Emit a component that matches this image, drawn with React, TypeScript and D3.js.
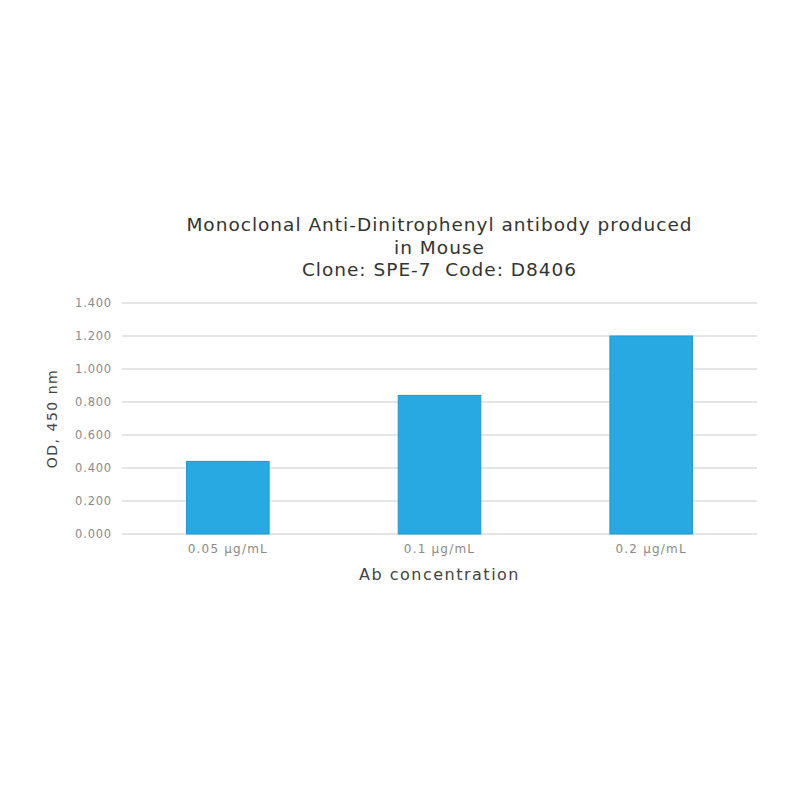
import React, { useRef, useEffect, FC } from 'react';
import * as d3 from 'd3';

// chart data
const categories: string[] = ['0.05 µg/mL', '0.1 µg/mL', '0.2 µg/mL'];
const odValues: number[] = [0.44, 0.84, 1.2];
const yTicks: number[] = [0, 0.2, 0.4, 0.6, 0.8, 1.0, 1.2, 1.4];
const titleLines: string[] = [
  'Monoclonal Anti-Dinitrophenyl antibody produced',
  'in Mouse',
  'Clone: SPE-7  Code: D8406',
];

const W = 800;
const H = 800;
const margin = { top: 303, right: 43, bottom: 266, left: 122 };
const FONT = '"DejaVu Sans", Verdana, sans-serif';

const BarChart: FC = () => {
  const svgRef = useRef<SVGSVGElement | null>(null);

  useEffect(() => {
    const svg = d3.select(svgRef.current);
    svg.selectAll('*').remove();

    const x = d3.scaleBand<string>()
      .domain(categories)
      .range([margin.left, W - margin.right])
      .paddingInner(0.61)
      .paddingOuter(0.305);
    const y = d3.scaleLinear().domain([0, 1.4]).range([H - margin.bottom, margin.top]);
    const cx = (margin.left + W - margin.right) / 2;

    // gridlines
    svg.append('g').selectAll('line').data(yTicks).join('line')
      .attr('x1', margin.left).attr('x2', W - margin.right)
      .attr('y1', (d) => y(d)).attr('y2', (d) => y(d))
      .attr('stroke', '#dcdcdc').attr('stroke-width', 1.5);

    // y tick labels
    svg.append('g').selectAll('text').data(yTicks).join('text')
      .attr('x', margin.left - 10).attr('y', (d) => y(d)).attr('dy', '0.35em')
      .attr('text-anchor', 'end')
      .attr('font-family', FONT).attr('font-size', 11.5).attr('letter-spacing', 0.8)
      .attr('fill', '#8a8a8a')
      .text((d) => d3.format('.3f')(d));

    // bars
    svg.append('g').selectAll('rect').data(odValues).join('rect')
      .attr('x', (_, i) => x(categories[i])!)
      .attr('width', x.bandwidth())
      .attr('y', (d) => y(d))
      .attr('height', (d) => y(0) - y(d))
      .attr('fill', '#29a9e1')
      .attr('stroke', '#1f97cf').attr('stroke-width', 1);

    // x labels
    svg.append('g').selectAll('text').data(categories).join('text')
      .attr('x', (d) => x(d)! + x.bandwidth() / 2).attr('y', H - margin.bottom + 19)
      .attr('text-anchor', 'middle')
      .attr('font-family', FONT).attr('font-size', 12).attr('letter-spacing', 1.2)
      .attr('fill', '#8a8a8a')
      .text((d) => d);

    // axis titles
    svg.append('text')
      .attr('x', cx).attr('y', 580)
      .attr('text-anchor', 'middle')
      .attr('font-family', FONT).attr('font-size', 16).attr('letter-spacing', 1.5)
      .attr('fill', '#444')
      .text('Ab concentration');

    svg.append('text')
      .attr('transform', `translate(57,${(margin.top + H - margin.bottom) / 2}) rotate(-90)`)
      .attr('text-anchor', 'middle')
      .attr('font-family', FONT).attr('font-size', 14).attr('letter-spacing', 1.5)
      .attr('fill', '#444')
      .text('OD, 450 nm');

    // title
    svg.append('g').selectAll('text').data(titleLines).join('text')
      .attr('x', cx).attr('y', (_, i) => 231 + i * 22.5)
      .attr('text-anchor', 'middle')
      .attr('font-family', FONT).attr('font-size', 18.5).attr('letter-spacing', 1)
      .attr('fill', '#333')
      .style('white-space', 'pre')
      .text((d) => d);
  }, []);

  return <svg ref={svgRef} width={W} height={H} style={{ display: 'block' }} />;
};

export default function App() {
  return (
    <div style={{ position: 'absolute', left: 0, top: 0, background: '#fff' }}>
      <BarChart />
    </div>
  );
}
